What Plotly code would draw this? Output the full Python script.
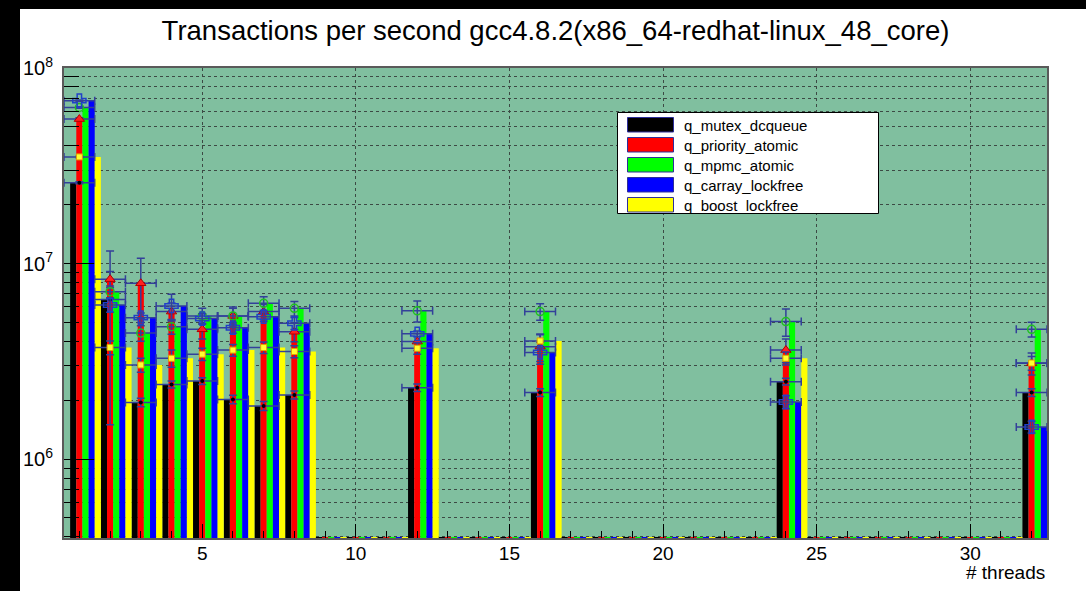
import math
import plotly.graph_objects as go

# Thread counts that were benchmarked (x axis), one bin per thread count 1..32
threads = [1, 2, 3, 4, 5, 6, 7, 8, 12, 16, 24, 32]
max_threads = 32

series_names = ["q_mutex_dcqueue", "q_priority_atomic", "q_mpmc_atomic",
                "q_carray_lockfree", "q_boost_lockfree"]

# Mean transactions per second for each queue implementation
tps_mutex_dcqueue = [2.59e7, 6.55e6, 1.95e6, 2.41e6, 2.51e6, 2.02e6, 1.87e6, 2.13e6, 2.32e6, 2.19e6, 2.49e6, 2.19e6]
tps_priority_atomic = [5.48e7, 8.32e6, 7.93e6, 5.68e6, 4.61e6, 5.40e6, 5.68e6, 4.48e6, 3.99e6, 3.76e6, 3.61e6, 3.09e6]
tps_mpmc_atomic = [6.28e7, 7.18e6, 4.41e6, 4.75e6, 5.40e6, 5.40e6, 6.26e6, 5.90e6, 5.73e6, 5.68e6, 5.05e6, 4.61e6]
tps_carray_lockfree = [6.81e7, 6.14e6, 5.29e6, 6.07e6, 5.23e6, 4.70e6, 5.35e6, 4.95e6, 4.37e6, 3.51e6, 1.96e6, 1.46e6]
tps_boost_lockfree = [3.51e7, 3.72e6, 3.03e6, 3.28e6, 3.44e6, 3.61e6, 3.72e6, 3.55e6, 3.69e6, 4.02e6, 3.28e6, 3.10e6]

# Spread (error) of each measurement
err_mutex_dcqueue = [0.3e6, 5.05e6, 0.1e6, 0.1e6, 0.1e6, 0.1e6, 0.1e6, 0.1e6, 0.1e6, 0.1e6, 0.1e6, 0.1e6]
err_priority_atomic = [0.8e6, 0.8e6, 2.7e6, 0.6e6, 0.5e6, 0.6e6, 0.5e6, 0.5e6, 0.4e6, 0.6e6, 0.5e6, 0.4e6]
err_mpmc_atomic = [0.6e6, 0.5e6, 0.4e6, 0.4e6, 0.5e6, 0.5e6, 0.5e6, 0.5e6, 0.7e6, 0.55e6, 0.8e6, 0.4e6]
err_carray_lockfree = [0.6e6, 0.5e6, 0.3e6, 0.9e6, 0.3e6, 0.3e6, 0.3e6, 0.35e6, 0.15e6, 0.45e6, 0.15e6, 0.1e6]
err_boost_lockfree = [0.3e6, 0.3e6, 0.25e6, 0.33e6, 0.25e6, 0.25e6, 0.25e6, 0.25e6, 0.25e6, 0.3e6, 0.25e6, 0.25e6]

values = [tps_mutex_dcqueue, tps_priority_atomic, tps_mpmc_atomic,
          tps_carray_lockfree, tps_boost_lockfree]
errors = [err_mutex_dcqueue, err_priority_atomic, err_mpmc_atomic,
          err_carray_lockfree, err_boost_lockfree]

bar_colors = ["#000000", "#ff0000", "#00ff00", "#0000ff", "#ffff00"]
markers = [
    dict(symbol="circle", size=4, color="#000000"),
    dict(symbol="triangle-up", size=9, color="#ff2020", line=dict(color="#b00000", width=1)),
    dict(symbol="circle-open", size=8, color="#20c020", line=dict(width=1.5)),
    dict(symbol="cross-open", size=11, color="#2040c8", line=dict(width=1.5)),
    dict(symbol="square", size=6, color="#ffff30", line=dict(color="#e0a000", width=1)),
]
err_color = "#33409a"

bar_width = 0.2
first_offset = -0.3

y_min = 3.95e5
y_max = 1.0e8

fig = go.Figure()

# Bars: five side-by-side bars per thread count
for i, (name, vals) in enumerate(zip(series_names, values)):
    fig.add_trace(go.Bar(
        x=threads, y=vals, name=name,
        width=bar_width, offset=first_offset + i * bar_width,
        marker=dict(color=bar_colors[i], line=dict(width=0)),
        showlegend=False,
    ))

# Empty bins are drawn as flat bars sitting on the axis floor
empty_bins = [n for n in range(1, max_threads + 1) if n not in threads]
for i in range(len(series_names)):
    xs, ys = [], []
    for n in empty_bins:
        left = n + first_offset + i * bar_width
        xs += [left, left + bar_width, None]
        ys += [y_min, y_min, None]
    fig.add_trace(go.Scatter(x=xs, y=ys, mode="lines",
                             line=dict(color=bar_colors[i], width=2),
                             showlegend=False, hoverinfo="skip"))

# Means with error bars, centred on each bin
for i, (name, vals, errs) in enumerate(zip(series_names, values, errors)):
    fig.add_trace(go.Scatter(
        x=threads, y=vals, mode="markers", name=name,
        marker=markers[i],
        error_y=dict(type="data", array=errs, color=err_color, thickness=1.5, width=4),
        error_x=dict(type="constant", value=0.5, color=err_color, thickness=1.5, width=4),
        showlegend=False,
    ))

# Figure geometry (pixels)
W, H = 1086, 591
L, R, T, B = 64, 39, 68, 53
plot_w = W - L - R
plot_h = H - T - B


def px(x):
    return (x - L) / plot_w


def py(y):
    return (H - B - y) / plot_h


shapes = []
# dark border strips around the canvas
shapes.append(dict(type="rect", xref="paper", yref="paper", x0=px(0), x1=px(20),
                   y0=py(H), y1=py(0), fillcolor="black", line=dict(width=0), layer="above"))
shapes.append(dict(type="rect", xref="paper", yref="paper", x0=px(0), x1=px(W),
                   y0=py(9), y1=py(0), fillcolor="black", line=dict(width=0), layer="above"))

# Legend box
annotations = []
shapes.append(dict(type="rect", xref="paper", yref="paper", x0=px(617.5), x1=px(878.5),
                   y0=py(213.5), y1=py(112.5), fillcolor="white",
                   line=dict(color="black", width=1), layer="above"))
for k, name in enumerate(series_names):
    top = 117.5 + 20 * k
    shapes.append(dict(type="rect", xref="paper", yref="paper", x0=px(627.5), x1=px(673.5),
                       y0=py(top + 14.5), y1=py(top), fillcolor=bar_colors[k],
                       line=dict(color="#2e2e9a", width=1), layer="above"))
    annotations.append(dict(xref="paper", yref="paper", x=px(681.5), y=py(top + 7.5),
                            text=name, showarrow=False, xanchor="left", yanchor="middle",
                            font=dict(family="Liberation Sans", size=15, color="black")))

annotations.append(dict(xref="paper", yref="paper", x=1.0, y=py(572),
                        text="# threads", showarrow=False, xanchor="right", yanchor="middle",
                        font=dict(family="Liberation Sans", size=19, color="black")))

decades = [1e6, 1e7, 1e8]
minor_vals = [m * 10 ** e for e in range(5, 8) for m in range(2, 10) if y_min <= m * 10 ** e <= y_max]

grid_color = "#3c4a44"
fig.update_layout(
    width=W, height=H,
    margin=dict(l=L, r=R, t=T, b=B, pad=0),
    paper_bgcolor="white",
    plot_bgcolor="#80bf9f",
    barmode="overlay",
    title=dict(text="Transactions per second gcc4.8.2(x86_64-redhat-linux_48_core)",
               x=0.5, xref="paper", xanchor="center",
               y=1 - 30 / H, yref="container", yanchor="middle",
               font=dict(family="Liberation Sans", size=27.5, color="black")),
    shapes=shapes,
    annotations=annotations,
    font=dict(family="Liberation Sans", color="black"),
)

fig.update_xaxes(
    range=[0.5, max_threads + 0.5],
    tickmode="linear", tick0=0, dtick=5,
    ticks="inside", ticklen=14, tickwidth=1, tickcolor="black",
    tickfont=dict(family="Liberation Sans", size=19, color="black"),
    ticklabelstandoff=-3,
    showgrid=True, gridcolor=grid_color, griddash="dot", gridwidth=1,
    minor=dict(dtick=1, tick0=0, ticks="inside", ticklen=7, tickcolor="black", showgrid=False),
    showline=True, linecolor="#5a5a5a", linewidth=2, mirror=True,
    zeroline=False,
)

fig.update_yaxes(
    type="log",
    range=[math.log10(y_min), math.log10(y_max)],
    tickmode="array", tickvals=decades,
    ticktext=["10<sup>%d</sup>" % round(math.log10(v)) for v in decades],
    ticks="inside", ticklen=30, tickwidth=1, tickcolor="black",
    tickfont=dict(family="Liberation Sans", size=20, color="black"),
    ticklabelstandoff=5,
    showgrid=True, gridcolor=grid_color, griddash="dot", gridwidth=1,
    minor=dict(tickmode="array", tickvals=minor_vals, ticks="inside", ticklen=15,
               tickcolor="black", showgrid=True, gridcolor=grid_color, griddash="dot"),
    showline=True, linecolor="#5a5a5a", linewidth=2, mirror=True,
    zeroline=False,
)

fig.write_html("out.html")
